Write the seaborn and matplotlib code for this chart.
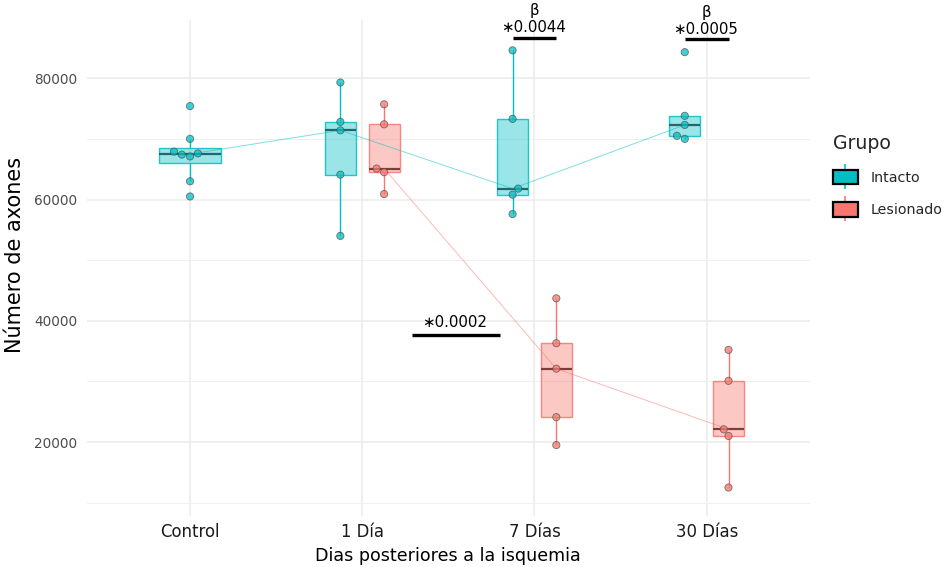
import matplotlib
matplotlib.use("Agg")
import matplotlib.pyplot as plt
import numpy as np
import pandas as pd
import seaborn as sns
from matplotlib.colors import to_rgba
from matplotlib.lines import Line2D
from matplotlib.patches import Patch
from matplotlib.legend_handler import HandlerTuple

# ---- data -------------------------------------------------------------
categories = ["Control", "1 Día", "7 Días", "30 Días"]
groups = ["Intacto", "Lesionado"]

intacto_control = [75400, 70000, 67900, 67600, 67400, 67100, 63000, 60500]
intacto_1d = [79300, 72800, 71400, 64100, 54000]
intacto_7d = [84600, 73300, 61800, 60800, 57600]
intacto_30d = [84300, 73800, 72300, 70500, 70000]
lesionado_1d = [75700, 72400, 65100, 64500, 60900]
lesionado_7d = [43700, 36300, 32100, 24100, 19500]
lesionado_30d = [35200, 30100, 22100, 21000, 12500]

# comparisons: bar height, label and extra mark above
sig_labels = ["∗0.0002", "∗0.0044", "∗0.0005"]
sig_heights = [37700, 86700, 86450]
sig_marks = ["", "β", "β"]

palette = {"Intacto": "#00BFC4", "Lesionado": "#F8766D"}
median_colors = {"Intacto": "#24666A", "Lesionado": "#7E3D39"}
dodge = 0.127

series = {
    ("Control", "Intacto"): intacto_control,
    ("1 Día", "Intacto"): intacto_1d,
    ("7 Días", "Intacto"): intacto_7d,
    ("30 Días", "Intacto"): intacto_30d,
    ("1 Día", "Lesionado"): lesionado_1d,
    ("7 Días", "Lesionado"): lesionado_7d,
    ("30 Días", "Lesionado"): lesionado_30d,
}

rows = []
for (cat, grp), vals in series.items():
    idx = categories.index(cat)
    off = 0.0 if cat == "Control" else (-dodge if grp == "Intacto" else dodge)
    for v in vals:
        rows.append({"Dia": cat, "Grupo": grp, "pos": idx + off, "axones": v})
df = pd.DataFrame(rows)

# ---- figure -----------------------------------------------------------
sns.set_style("white")
plt.rcParams["font.family"] = ["DejaVu Sans"]

fig = plt.figure(figsize=(9.51, 5.67), dpi=100)
ax = fig.add_axes([0.0912, 0.0899, 0.7605, 0.8748])


def draw_boxes(sub, width, grp, whis=1.5):
    c = palette[grp]
    sns.boxplot(
        data=sub, x="pos", y="axones", native_scale=True, orient="x",
        width=width, color=c, saturation=1, showfliers=False, showcaps=False,
        linewidth=1.0, whis=whis,
        boxprops=dict(facecolor=to_rgba(c, 0.4), edgecolor=to_rgba(c, 0.85)),
        whiskerprops=dict(color=c, linewidth=1.0),
        medianprops=dict(color=median_colors[grp], linewidth=1.6),
        ax=ax,
    )


ctrl = df[df["Dia"] == "Control"]
rest = df[df["Dia"] != "Control"]
draw_boxes(ctrl, 0.355, "Intacto")
draw_boxes(rest[rest["Grupo"] == "Intacto"], 0.18, "Intacto")
draw_boxes(rest[rest["Grupo"] == "Lesionado"], 0.18, "Lesionado")

# medians joined across days
sns.lineplot(
    data=df, x="pos", y="axones", hue="Grupo", palette=palette,
    estimator="median", errorbar=None, linewidth=0.7, alpha=0.5,
    legend=False, ax=ax, zorder=4,
)

# individual animals
sns.swarmplot(
    data=df, x="pos", y="axones", hue="Grupo", palette=palette,
    native_scale=True, orient="x", size=5.2, linewidth=0.6,
    edgecolor="#4d4d4d", alpha=0.75, legend=False, ax=ax, zorder=5,
)

# significance annotations
sig_spans = [(1 + 0.29, 1 + 0.80), (2 - dodge, 2 + dodge), (3 - dodge, 3 + dodge)]
text_offsets = [12, 10, 9.5]
for (x1, x2), yb, lab, mark, toff in zip(sig_spans, sig_heights, sig_labels,
                                         sig_marks, text_offsets):
    ax.plot([x1, x2], [yb, yb], color="black", linewidth=2.4,
            solid_capstyle="butt", zorder=6, clip_on=False)
    xc = (x1 + x2) / 2
    ax.annotate(lab, xy=(xc, yb), xytext=(-1, toff), textcoords="offset pixels",
                ha="center", va="center", fontsize=10.8, color="black",
                annotation_clip=False)
    if mark:
        ax.annotate(mark, xy=(xc, yb), xytext=(0, toff + 17),
                    textcoords="offset pixels", ha="center", va="center",
                    fontsize=10.8, color="black", annotation_clip=False)

# ---- axes styling -----------------------------------------------------
ax.set_xlim(-0.6, 3.6)
ax.set_ylim(7800, 89600)
ax.set_xticks(range(len(categories)))
ax.set_xticklabels(categories)
ax.set_yticks([20000, 40000, 60000, 80000])
ax.set_yticks([10000, 30000, 50000, 70000], minor=True)
ax.set_yticklabels(["20000", "40000", "60000", "80000"])
ax.grid(axis="y", which="major", color="#EBEBEB", linewidth=1.1)
ax.grid(axis="y", which="minor", color="#EFEFEF", linewidth=0.7)
ax.grid(axis="x", which="major", color="#EBEBEB", linewidth=1.1)
ax.set_axisbelow(True)
for s in ax.spines.values():
    s.set_visible(False)
ax.tick_params(axis="both", which="both", length=0)
ax.tick_params(axis="y", labelsize=9.8, labelcolor="#4D4D4D", pad=7)
ax.tick_params(axis="x", labelsize=11.9, labelcolor="#1A1A1A", pad=5)
ax.set_xlabel("Dias posteriores a la isquemia", fontsize=12.6, color="black",
              labelpad=4)
ax.set_ylabel("Número de axones", fontsize=15, color="black")
ax.yaxis.set_label_coords(-0.086, 0.526)

# legend: filled key with the whisker running through it
handles = []
for g in groups:
    whisk = Line2D([], [], color=palette[g], marker="|", markersize=18,
                   markeredgewidth=1.2, linestyle="none")
    box = Patch(facecolor=palette[g], edgecolor="black", linewidth=1.6)
    handles.append((whisk, box))
leg = fig.legend(
    handles, groups, title="Grupo", loc="upper left",
    bbox_to_anchor=(0.862, 0.787), frameon=False, fontsize=10.3,
    title_fontsize=13.6, handlelength=1.75, handleheight=1.2,
    handletextpad=0.9, labelspacing=1.2, alignment="left",
    handler_map={tuple: HandlerTuple(ndivide=1, pad=0)},
)

fig.savefig("out.png", dpi=100)
